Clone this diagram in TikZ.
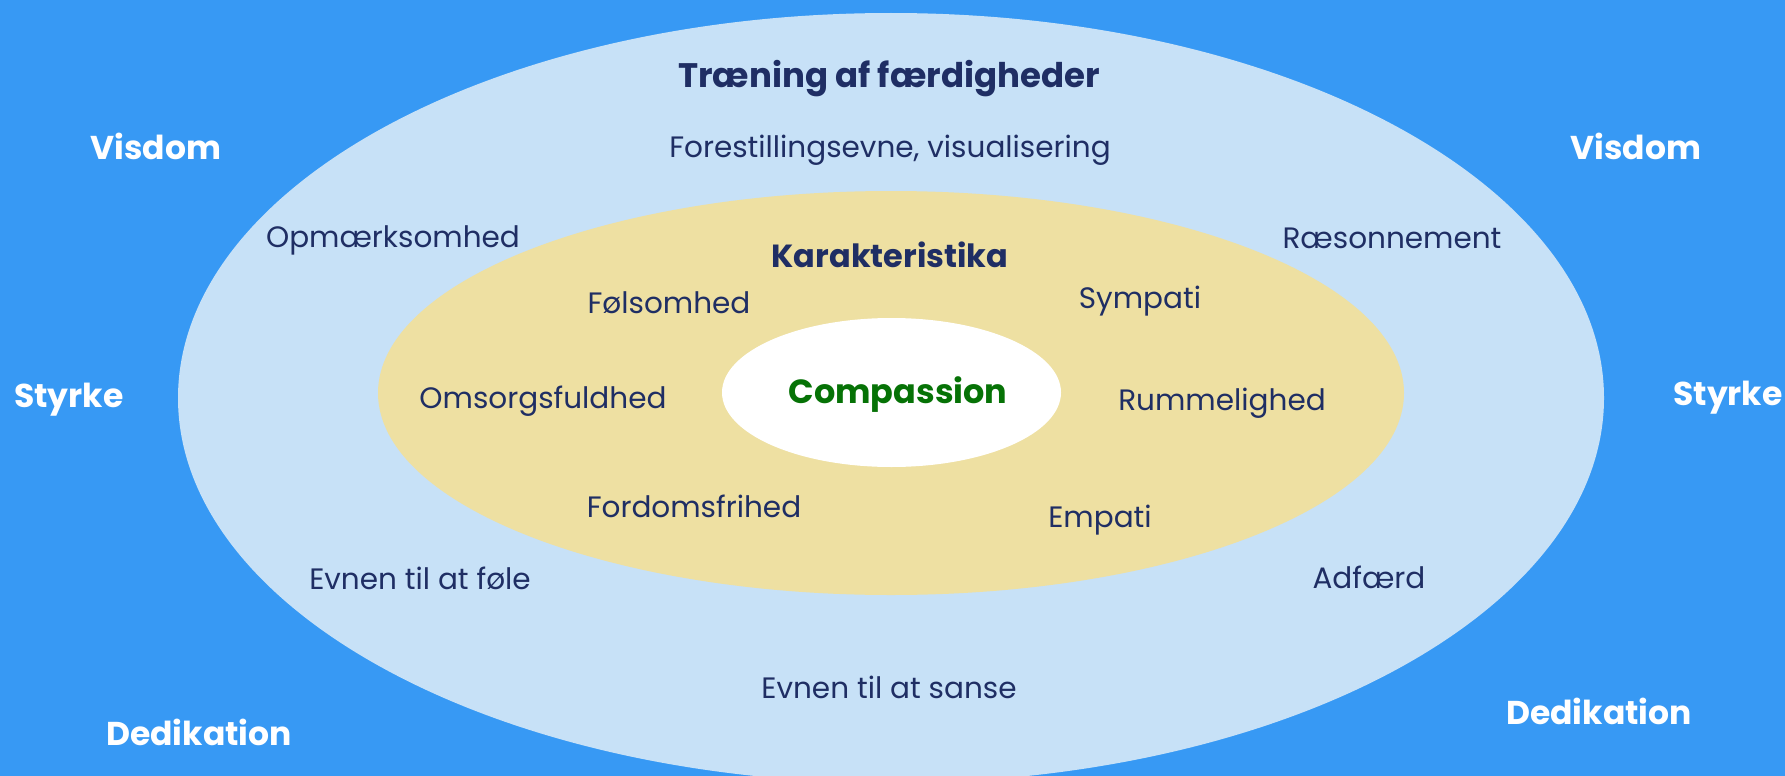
\documentclass[tikz,border=0pt]{standalone}
\usepackage{fontspec}
\setmainfont{Poppins}
\definecolor{bgblue}{RGB}{55,153,244}
\definecolor{lightblue}{RGB}{199,225,247}
\definecolor{sand}{RGB}{238,224,162}
\definecolor{navy}{RGB}{31,46,100}
\definecolor{cgreen}{RGB}{6,114,6}
\begin{document}
\begin{tikzpicture}[x=1pt,y=-1pt,
  every node/.style={inner sep=0pt, anchor=base},
  corner/.style={font=\fontsize{33}{40}\selectfont\bfseries, text=white},
  head/.style={font=\fontsize{34}{40}\selectfont\bfseries, text=navy},
  subhead/.style={font=\fontsize{32}{38}\selectfont\bfseries, text=navy},
  item/.style={font=\fontsize{29.5}{36}\selectfont, text=navy},
  core/.style={font=\fontsize{33.5}{40}\selectfont\bfseries, text=cgreen}]
\useasboundingbox (0,0) rectangle (1785,776);
\fill[bgblue] (0,0) rectangle (1785,776);
\fill[lightblue] (891,398) ellipse [x radius=713pt, y radius=385pt];
\fill[sand] (891,393) ellipse [x radius=513pt, y radius=202pt];
\fill[white] (891.5,392.5) ellipse [x radius=169.5pt, y radius=74.5pt];
% corner labels
\node[corner] (visL) at (156,159) {Visdom};
\node[corner] (visR) at (1636,159) {Visdom};
\node[corner] (styL) at (69,407) {Styrke};
\node[corner] (styR) at (1728,405) {Styrke};
\node[corner] (dedL) at (199,745) {Dedikation};
\node[corner] (dedR) at (1599,724) {Dedikation};
% outer ring
\node[head] (tr) at (889,88) {Træning af færdigheder};
\node[item] (fore) at (890,157) {Forestillingsevne, visualisering};
\node[item] (opm) at (393,247) {Opmærksomhed};
\node[item] (raes) at (1392,248) {Ræsonnement};
\node[item] (fole) at (420,589) {Evnen til at føle};
\node[item] (adf) at (1369,588) {Adfærd};
\node[item] (sanse) at (889,698) {Evnen til at sanse};
% inner ring
\node[subhead] (kar) at (890,267) {Karakteristika};
\node[item] (fols) at (669,313) {Følsomhed};
\node[item] (symp) at (1140,308) {Sympati};
\node[item] (omsg) at (543,408) {Omsorgsfuldhed};
\node[item] (rumm) at (1222,410) {Rummelighed};
\node[item] (ford) at (694,517) {Fordomsfrihed};
\node[item] (empa) at (1100,527) {Empati};
% core
\node[core] (comp) at (898,403) {Compassion};
\end{tikzpicture}
\end{document}
